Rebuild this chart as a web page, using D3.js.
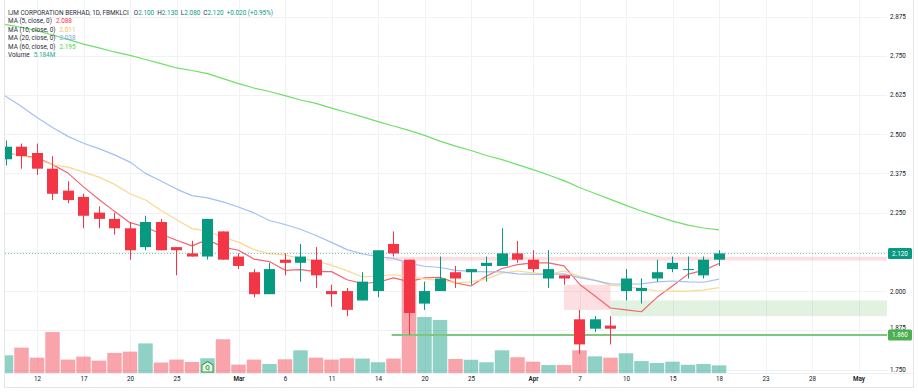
<!DOCTYPE html>
<html><head><meta charset="utf-8">
<script src="https://cdn.jsdelivr.net/npm/d3@7"></script>
<style>
html,body{margin:0;padding:0;background:#fff;}
svg{display:block;font-family:Roboto,"Liberation Sans",Arial,sans-serif;}
</style></head><body>
<svg id="chart" width="918" height="392"></svg>
<script>
// ---------- DATA ----------
const dates = ["2025-02-07","2025-02-10","2025-02-11","2025-02-12","2025-02-13","2025-02-14","2025-02-17","2025-02-18","2025-02-19","2025-02-20","2025-02-21","2025-02-24","2025-02-25","2025-02-26","2025-02-27","2025-02-28","2025-03-03","2025-03-04","2025-03-05","2025-03-06","2025-03-07","2025-03-10","2025-03-11","2025-03-12","2025-03-13","2025-03-14","2025-03-17","2025-03-19","2025-03-20","2025-03-21","2025-03-24","2025-03-25","2025-03-26","2025-03-27","2025-03-28","2025-04-02","2025-04-03","2025-04-04","2025-04-07","2025-04-08","2025-04-09","2025-04-10","2025-04-11","2025-04-14","2025-04-15","2025-04-16","2025-04-17","2025-04-18"];
const futureDates = ["2025-04-21","2025-04-22","2025-04-23","2025-04-24","2025-04-25","2025-04-28","2025-04-29","2025-04-30","2025-05-01","2025-05-02"];

const open  = [null,2.42,2.46,2.44,2.39,2.32,2.30,2.25,2.23,2.20,2.14,2.22,2.14,2.12,2.11,2.19,2.11,2.06,1.99,2.10,2.09,2.10,2.00,2.00,1.97,2.00,2.15,2.10,1.96,2.00,2.06,2.06,2.08,2.08,2.12,2.10,2.04,2.05,1.91,1.88,1.89,2.00,2.00,2.04,2.07,2.07,2.05,2.10];
const high  = [null,2.48,2.47,2.47,2.43,2.35,2.31,2.27,2.25,2.22,2.24,2.23,2.14,2.16,2.23,2.19,2.12,2.07,2.09,2.12,2.15,2.14,2.02,2.01,2.06,2.13,2.19,2.10,2.03,2.11,2.08,2.07,2.11,2.20,2.16,2.13,2.13,2.05,1.94,1.92,1.92,2.07,2.04,2.10,2.11,2.11,2.11,2.13];
const low   = [null,2.40,2.39,2.37,2.29,2.28,2.20,2.20,2.18,2.10,2.13,2.13,2.05,2.11,2.10,2.10,2.07,1.98,1.99,2.05,2.03,2.01,1.95,1.92,1.97,1.98,2.11,1.86,1.94,2.00,2.01,2.02,2.03,2.08,2.09,2.06,2.01,2.02,1.80,1.87,1.83,1.97,1.96,2.03,2.06,2.04,2.04,2.08];
const close = [null,2.46,2.43,2.39,2.31,2.29,2.24,2.23,2.20,2.13,2.22,2.13,2.13,2.11,2.23,2.10,2.08,1.99,2.07,2.09,2.11,2.05,1.99,1.94,2.03,2.13,2.12,1.93,2.00,2.04,2.04,2.07,2.09,2.12,2.10,2.07,2.07,2.04,1.83,1.91,1.88,2.04,2.01,2.06,2.09,2.07,2.10,2.12];
const volumeM = [null,12.0,17.2,10.4,27.8,9.1,11.1,8.4,13.6,14.5,20.1,7.1,9.1,7.5,10.0,22.9,5.7,9.1,6.1,9.3,15.4,10.4,9.1,10.0,9.8,7.3,9.8,76.0,38.0,36.0,9.5,9.0,7.3,15.4,10.7,7.7,5.4,5.4,15.4,11.3,10.4,13.4,8.1,6.8,7.7,5.6,6.1,5.184];

const ma5  = [2.440,2.440,2.432,2.425,2.403,2.376,2.332,2.292,2.254,2.218,2.204,2.182,2.162,2.144,2.164,2.140,2.130,2.102,2.094,2.066,2.068,2.062,2.062,2.036,2.024,2.028,2.042,2.030,2.042,2.044,2.026,2.016,2.048,2.072,2.084,2.090,2.090,2.080,2.022,1.984,1.946,1.940,1.934,1.980,2.016,2.054,2.066,2.088];
const ma10 = [2.450,2.440,2.432,2.420,2.403,2.395,2.379,2.363,2.340,2.310,2.290,2.257,2.227,2.199,2.191,2.172,2.156,2.132,2.119,2.115,2.104,2.096,2.082,2.065,2.045,2.048,2.052,2.046,2.039,2.034,2.027,2.029,2.039,2.057,2.064,2.058,2.053,2.064,2.047,2.034,2.018,2.015,2.007,2.001,2.000,2.000,2.003,2.011];
const ma20 = [2.652,2.620,2.588,2.553,2.521,2.493,2.471,2.454,2.434,2.411,2.375,2.351,2.325,2.304,2.297,2.284,2.268,2.249,2.225,2.212,2.197,2.177,2.155,2.132,2.118,2.110,2.104,2.089,2.079,2.075,2.066,2.063,2.061,2.061,2.055,2.053,2.053,2.055,2.043,2.034,2.023,2.022,2.023,2.029,2.032,2.029,2.028,2.038];
const ma60 = [2.862,2.849,2.840,2.830,2.816,2.802,2.787,2.775,2.762,2.751,2.738,2.725,2.711,2.703,2.693,2.677,2.661,2.647,2.636,2.623,2.609,2.598,2.583,2.569,2.555,2.540,2.526,2.512,2.496,2.478,2.462,2.448,2.432,2.419,2.403,2.387,2.370,2.352,2.330,2.311,2.292,2.273,2.255,2.239,2.223,2.210,2.201,2.195];

const tickDates  = ["2025-02-12","2025-02-17","2025-02-20","2025-02-25","2025-03-03","2025-03-06","2025-03-11","2025-03-14","2025-03-20","2025-03-25","2025-04-02","2025-04-07","2025-04-10","2025-04-15","2025-04-18","2025-04-23","2025-04-28","2025-05-01"];
const tickLabels = ["12","17","20","25","Mar","6","11","14","20","25","Apr","7","10","15","18","23","28","May"];
const monthTicks = ["Mar","Apr","May"];
const gridPrices = [2.875,2.750,2.625,2.500,2.375,2.250,2.125,2.000,1.875,1.750];
const priceLabels = [2.875,2.750,2.625,2.500,2.375,2.250,2.000,1.875,1.750];

const lastPrice = 2.120;
const supportLevel = {from:"2025-03-17", price:1.860, label:"1.860"};
const resistBand = {from:"2025-03-17", lo:2.097, hi:2.109};
const bearGap = {from:"2025-04-04", to:"2025-04-09", lo:1.94, hi:2.02};
const bullGap = {from:"2025-04-09", lo:1.92, hi:1.97};
const earningsDate = "2025-02-27";

const legendTitle = "IJM CORPORATION BERHAD, 1D, FBMKLCI";
const ohlcLabels = ["O","H","L","C"];
const ohlcValues = ["2.100","2.130","2.080","2.120"];
const changeText = "+0.020 (+0.95%)";
const maNames  = ["MA (5, close, 0)","MA (10, close, 0)","MA (20, close, 0)","MA (60, close, 0)"];
const maValues = ["2.088","2.011","2.038","2.195"];
const volumeLabel = "Volume", volumeValue = "5.184M";

// ---------- STYLE ----------
const plotL = 5, plotR = 887, plotB = 373;
const UP = "#089981", DOWN = "#f23645";
const maColors = ["#f4656f","#fcd88f","#a3c0f3","#6fe066"];
const maValueColors = ["#f23645","#f2c14e","#7ba2ee","#3fd83c"];

const svg = d3.select("#chart");
const allDates = dates.concat(futureDates);
const x = d3.scalePoint().domain(allDates).range([-9.5, -9.5 + 15.5*(allDates.length-1)]);
const step = x.step();
const y = d3.scaleLinear().domain([1.75, 2.875]).range([369.5, 16.5]);
const yv = d3.scaleLinear().domain([0, d3.max(volumeM)]).range([plotB, 261]);

svg.append("defs").append("clipPath").attr("id","clip")
  .append("rect").attr("x",plotL).attr("y",0).attr("width",plotR-plotL).attr("height",plotB);

// grid
const grid = svg.append("g").attr("clip-path","url(#clip)");
grid.selectAll(".vg").data(tickDates).join("line")
  .attr("x1",d=>Math.round(x(d))+0.5).attr("x2",d=>Math.round(x(d))+0.5)
  .attr("y1",0).attr("y2",plotB).attr("stroke","#f0f2f6").attr("stroke-width",1);
grid.selectAll(".hg").data(gridPrices).join("line")
  .attr("x1",plotL).attr("x2",plotR)
  .attr("y1",d=>Math.round(y(d))+0.5).attr("y2",d=>Math.round(y(d))+0.5)
  .attr("stroke","#f0f2f6").attr("stroke-width",1);

const plot = svg.append("g").attr("clip-path","url(#clip)");

// zones
plot.append("rect")
  .attr("x", x(resistBand.from)-step/2).attr("width", plotR-(x(resistBand.from)-step/2))
  .attr("y", y(resistBand.hi)).attr("height", y(resistBand.lo)-y(resistBand.hi))
  .attr("fill","rgba(242,54,69,0.16)");
plot.append("rect")
  .attr("x", x(bearGap.from)).attr("width", x(bearGap.to)-x(bearGap.from))
  .attr("y", y(bearGap.hi)).attr("height", y(bearGap.lo)-y(bearGap.hi))
  .attr("fill","rgba(242,54,69,0.16)");
plot.append("rect")
  .attr("x", x(bullGap.from)).attr("width", plotR-x(bullGap.from))
  .attr("y", y(bullGap.hi)).attr("height", y(bullGap.lo)-y(bullGap.hi))
  .attr("fill","rgba(76,175,80,0.17)");

// candle records
const bars = dates.map((d,i)=>({d, o:open[i], h:high[i], l:low[i], c:close[i], v:volumeM[i]})).filter(r=>r.o!=null);

// volume
plot.selectAll(".vol").data(bars).join("rect")
  .attr("x", r=>x(r.d)-(step-1)/2).attr("width", step-1)
  .attr("y", r=>yv(r.v)).attr("height", r=>plotB-yv(r.v))
  .attr("fill", r=>r.c>=r.o ? "rgba(8,153,129,0.45)" : "rgba(242,54,69,0.45)");

// MA lines
[ma5, ma10, ma20, ma60].forEach((arr,k)=>{
  const line = d3.line().x((v,i)=>x(dates[i])).y(v=>y(v));
  plot.append("path").attr("d", line(arr)).attr("fill","none")
    .attr("stroke", maColors[k]).attr("stroke-width", 1.2).attr("stroke-linejoin","round");
});

// support line
plot.append("line")
  .attr("x1", x(supportLevel.from)-step*0.12).attr("x2", plotR)
  .attr("y1", y(supportLevel.price)).attr("y2", y(supportLevel.price))
  .attr("stroke","#7fc77f").attr("stroke-width",2);

// last price dotted line
plot.append("line").attr("x1",plotL).attr("x2",plotR)
  .attr("y1", Math.round(y(lastPrice))+0.5).attr("y2", Math.round(y(lastPrice))+0.5)
  .attr("stroke", UP).attr("stroke-opacity",0.55).attr("stroke-dasharray","1,2");

// candles
const bw = 11;
const cg = plot.selectAll(".candle").data(bars).join("g");
cg.append("line")
  .attr("x1", r=>Math.floor(x(r.d))+0.5).attr("x2", r=>Math.floor(x(r.d))+0.5)
  .attr("y1", r=>y(r.h)).attr("y2", r=>y(r.l))
  .attr("stroke", r=>r.c>=r.o?UP:DOWN).attr("stroke-width",1);
cg.append("rect")
  .attr("x", r=>Math.floor(x(r.d))+0.5-bw/2).attr("width", bw)
  .attr("y", r=>y(Math.max(r.o,r.c)))
  .attr("height", r=>Math.max(1, Math.abs(y(r.o)-y(r.c))))
  .attr("fill", r=>r.c>=r.o?UP:DOWN);

// earnings marker
const ex = x(earningsDate);
const em = svg.append("g").attr("transform",`translate(${ex},${plotB-1})`);
em.append("path").attr("d","M-5.5,0 L5.5,0 L5.5,-7 L0,-10.5 L-5.5,-7 Z")
  .attr("fill","#e8f5e9").attr("stroke","#43a047").attr("stroke-width",1.1).attr("stroke-linejoin","round");
em.append("text").attr("y",-2.2).attr("text-anchor","middle").attr("font-size",6.5)
  .attr("font-weight",700).attr("fill","#43a047").text("Q");

// frame & separators
svg.append("line").attr("x1",plotL).attr("x2",913).attr("y1",plotB+0.5).attr("y2",plotB+0.5).attr("stroke","#eceef2");
svg.append("rect").attr("x",4.5).attr("y",-1).attr("width",909).attr("height",388.5)
  .attr("fill","none").attr("stroke","#e3e5ea");

// bottom axis
const xa = svg.append("g").attr("transform",`translate(0,${plotB+3})`)
  .call(d3.axisBottom(x).tickValues(tickDates).tickFormat((d,i)=>tickLabels[i]).tickSize(0).tickPadding(1));
xa.select(".domain").remove();
xa.selectAll("text").attr("font-size",6.3).attr("fill","#131722")
  .attr("font-family","Roboto,'Liberation Sans',Arial,sans-serif")
  .attr("font-weight",(d,i)=>monthTicks.includes(tickLabels[i])?600:400);

// right axis
const ya = svg.append("g").attr("transform",`translate(${plotR},0)`)
  .call(d3.axisRight(y).tickValues(priceLabels).tickFormat(d3.format(".3f")).tickSize(0).tickPadding(3));
ya.select(".domain").remove();
ya.selectAll("text").attr("font-size",6.3).attr("fill","#131722")
  .attr("font-family","Roboto,'Liberation Sans',Arial,sans-serif")
  .attr("dy", d => d===1.875 ? "-0.05em" : "0.32em");

// price labels
function priceTag(p, txt, fill){
  const g = svg.append("g").attr("transform",`translate(${plotR+1},${y(p)})`);
  g.append("rect").attr("x",0).attr("y",-5.5).attr("width",24).attr("height",11).attr("rx",1.5).attr("fill",fill);
  g.append("text").attr("x",12).attr("y",2.2).attr("text-anchor","middle").attr("font-size",6.3)
    .attr("fill","#fff").text(txt);
}
priceTag(supportLevel.price, supportLevel.label, "#4caf50");
priceTag(lastPrice, d3.format(".3f")(lastPrice), UP);

// legend
const lg = svg.append("g").attr("font-size",6.4).attr("fill","#2a2e39");
const t0 = lg.append("text").attr("x",8).attr("y",14.8);
t0.append("tspan").text(legendTitle);
ohlcLabels.forEach((l,i)=>{
  t0.append("tspan").attr("dx", i===0?5:3).text(l);
  t0.append("tspan").attr("fill",UP).text(ohlcValues[i]);
});
t0.append("tspan").attr("dx",3).attr("fill",UP).text(changeText);
maNames.forEach((n,i)=>{
  const t = lg.append("text").attr("x",8).attr("y",23.3 + i*8.4);
  t.append("tspan").text(n);
  t.append("tspan").attr("dx",4).attr("fill",maValueColors[i]).text(maValues[i]);
});
const tv = lg.append("text").attr("x",8).attr("y",23.3 + 4*8.4);
tv.append("tspan").text(volumeLabel);
tv.append("tspan").attr("dx",4).attr("fill","#22ab94").text(volumeValue);
</script>
</body></html>
